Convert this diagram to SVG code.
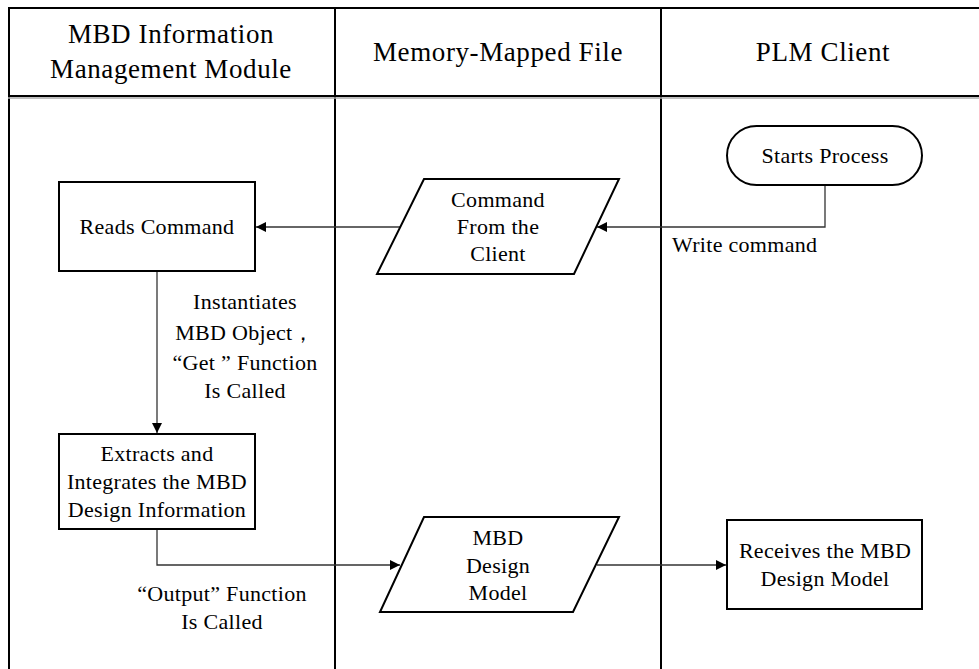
<svg xmlns="http://www.w3.org/2000/svg" width="979" height="669" viewBox="0 0 979 669" font-family="'Liberation Serif', 'Times New Roman', 'DejaVu Serif', serif">
  <style>
    .lane { stroke: #000; stroke-width: 2; fill: none; }
    .box { fill: #fff; stroke: #000; stroke-width: 2; }
    .edge { stroke: #333; stroke-width: 1.3; fill: none; }
    .hd { font-size: 27px; letter-spacing: 0.6px; text-anchor: middle; fill: #000; }
    .tx { font-size: 22px; letter-spacing: 0.3px; text-anchor: middle; fill: #000; }
    .lb { font-size: 22px; letter-spacing: 0.3px; fill: #000; }
  </style>
  <defs>
    <marker id="arr" viewBox="0 0 10 10" refX="10" refY="5" markerWidth="10" markerHeight="10" markerUnits="userSpaceOnUse" orient="auto">
      <path d="M0,0 L10,5 L0,10 Z" fill="#000"/>
    </marker>
  </defs>
  <rect width="979" height="669" fill="#fff"/>

  <!-- swimlane frame -->
  <g id="lanes">
    <line class="lane" x1="8" y1="8" x2="979" y2="8"/>
    <line class="lane" x1="9" y1="8" x2="9" y2="669"/>
    <line class="lane" x1="335" y1="8" x2="335" y2="669"/>
    <line class="lane" x1="661" y1="8" x2="661" y2="669"/>
    <line x1="8" y1="96" x2="979" y2="96" stroke="#000" stroke-width="2"/>
    <line x1="8" y1="98" x2="979" y2="98" stroke="#aaa" stroke-width="1.5"/>
    <text class="hd" x="171" y="43">MBD Information</text>
    <text class="hd" x="171" y="78">Management Module</text>
    <text class="hd" x="498" y="61">Memory-Mapped File</text>
    <text class="hd" x="823" y="61">PLM Client</text>
  </g>

  <!-- connectors -->
  <g id="connectors">
    <polyline class="edge" points="825,185 825,227 597,227" marker-end="url(#arr)"/>
    <line class="edge" x1="400" y1="227" x2="256" y2="227" marker-end="url(#arr)"/>
    <line class="edge" x1="157" y1="271" x2="157" y2="433" marker-end="url(#arr)"/>
    <polyline class="edge" points="157,529 157,565 400,565" marker-end="url(#arr)"/>
    <line class="edge" x1="597" y1="565" x2="726" y2="565" marker-end="url(#arr)"/>
    <text class="lb" x="672" y="252">Write command</text>
    <text class="tx" x="245" y="309">Instantiates</text>
    <text class="tx" x="245" y="340">MBD Object，</text>
    <text class="tx" x="245" y="370">“Get ” Function</text>
    <text class="tx" x="245" y="398">Is Called</text>
    <text class="tx" x="222" y="601">“Output”  Function</text>
    <text class="tx" x="222" y="629">Is Called</text>
  </g>

  <g id="start">
    <rect class="box" x="727" y="126" width="195" height="59" rx="29.5"/>
    <text class="tx" x="825" y="163">Starts Process</text>
  </g>

  <g id="command">
    <polygon class="box" points="424,179 619,179 574,274 377,274"/>
    <text class="tx" x="498" y="207">Command</text>
    <text class="tx" x="498" y="234">From the</text>
    <text class="tx" x="498" y="261">Client</text>
  </g>

  <g id="reads">
    <rect class="box" x="59" y="182" width="196" height="89"/>
    <text class="tx" x="157" y="234">Reads Command</text>
  </g>

  <g id="extracts">
    <rect class="box" x="59" y="434" width="196" height="95"/>
    <text class="tx" x="157" y="461">Extracts and</text>
    <text class="tx" x="157" y="489">Integrates the MBD</text>
    <text class="tx" x="157" y="517">Design Information</text>
  </g>

  <g id="model">
    <polygon class="box" points="424,517 619,517 573,612 380,612"/>
    <text class="tx" x="498" y="545">MBD</text>
    <text class="tx" x="498" y="573">Design</text>
    <text class="tx" x="498" y="600">Model</text>
  </g>

  <g id="receives">
    <rect class="box" x="727" y="520" width="195" height="89"/>
    <text class="tx" x="825" y="558">Receives the MBD</text>
    <text class="tx" x="825" y="586">Design Model</text>
  </g>
</svg>
